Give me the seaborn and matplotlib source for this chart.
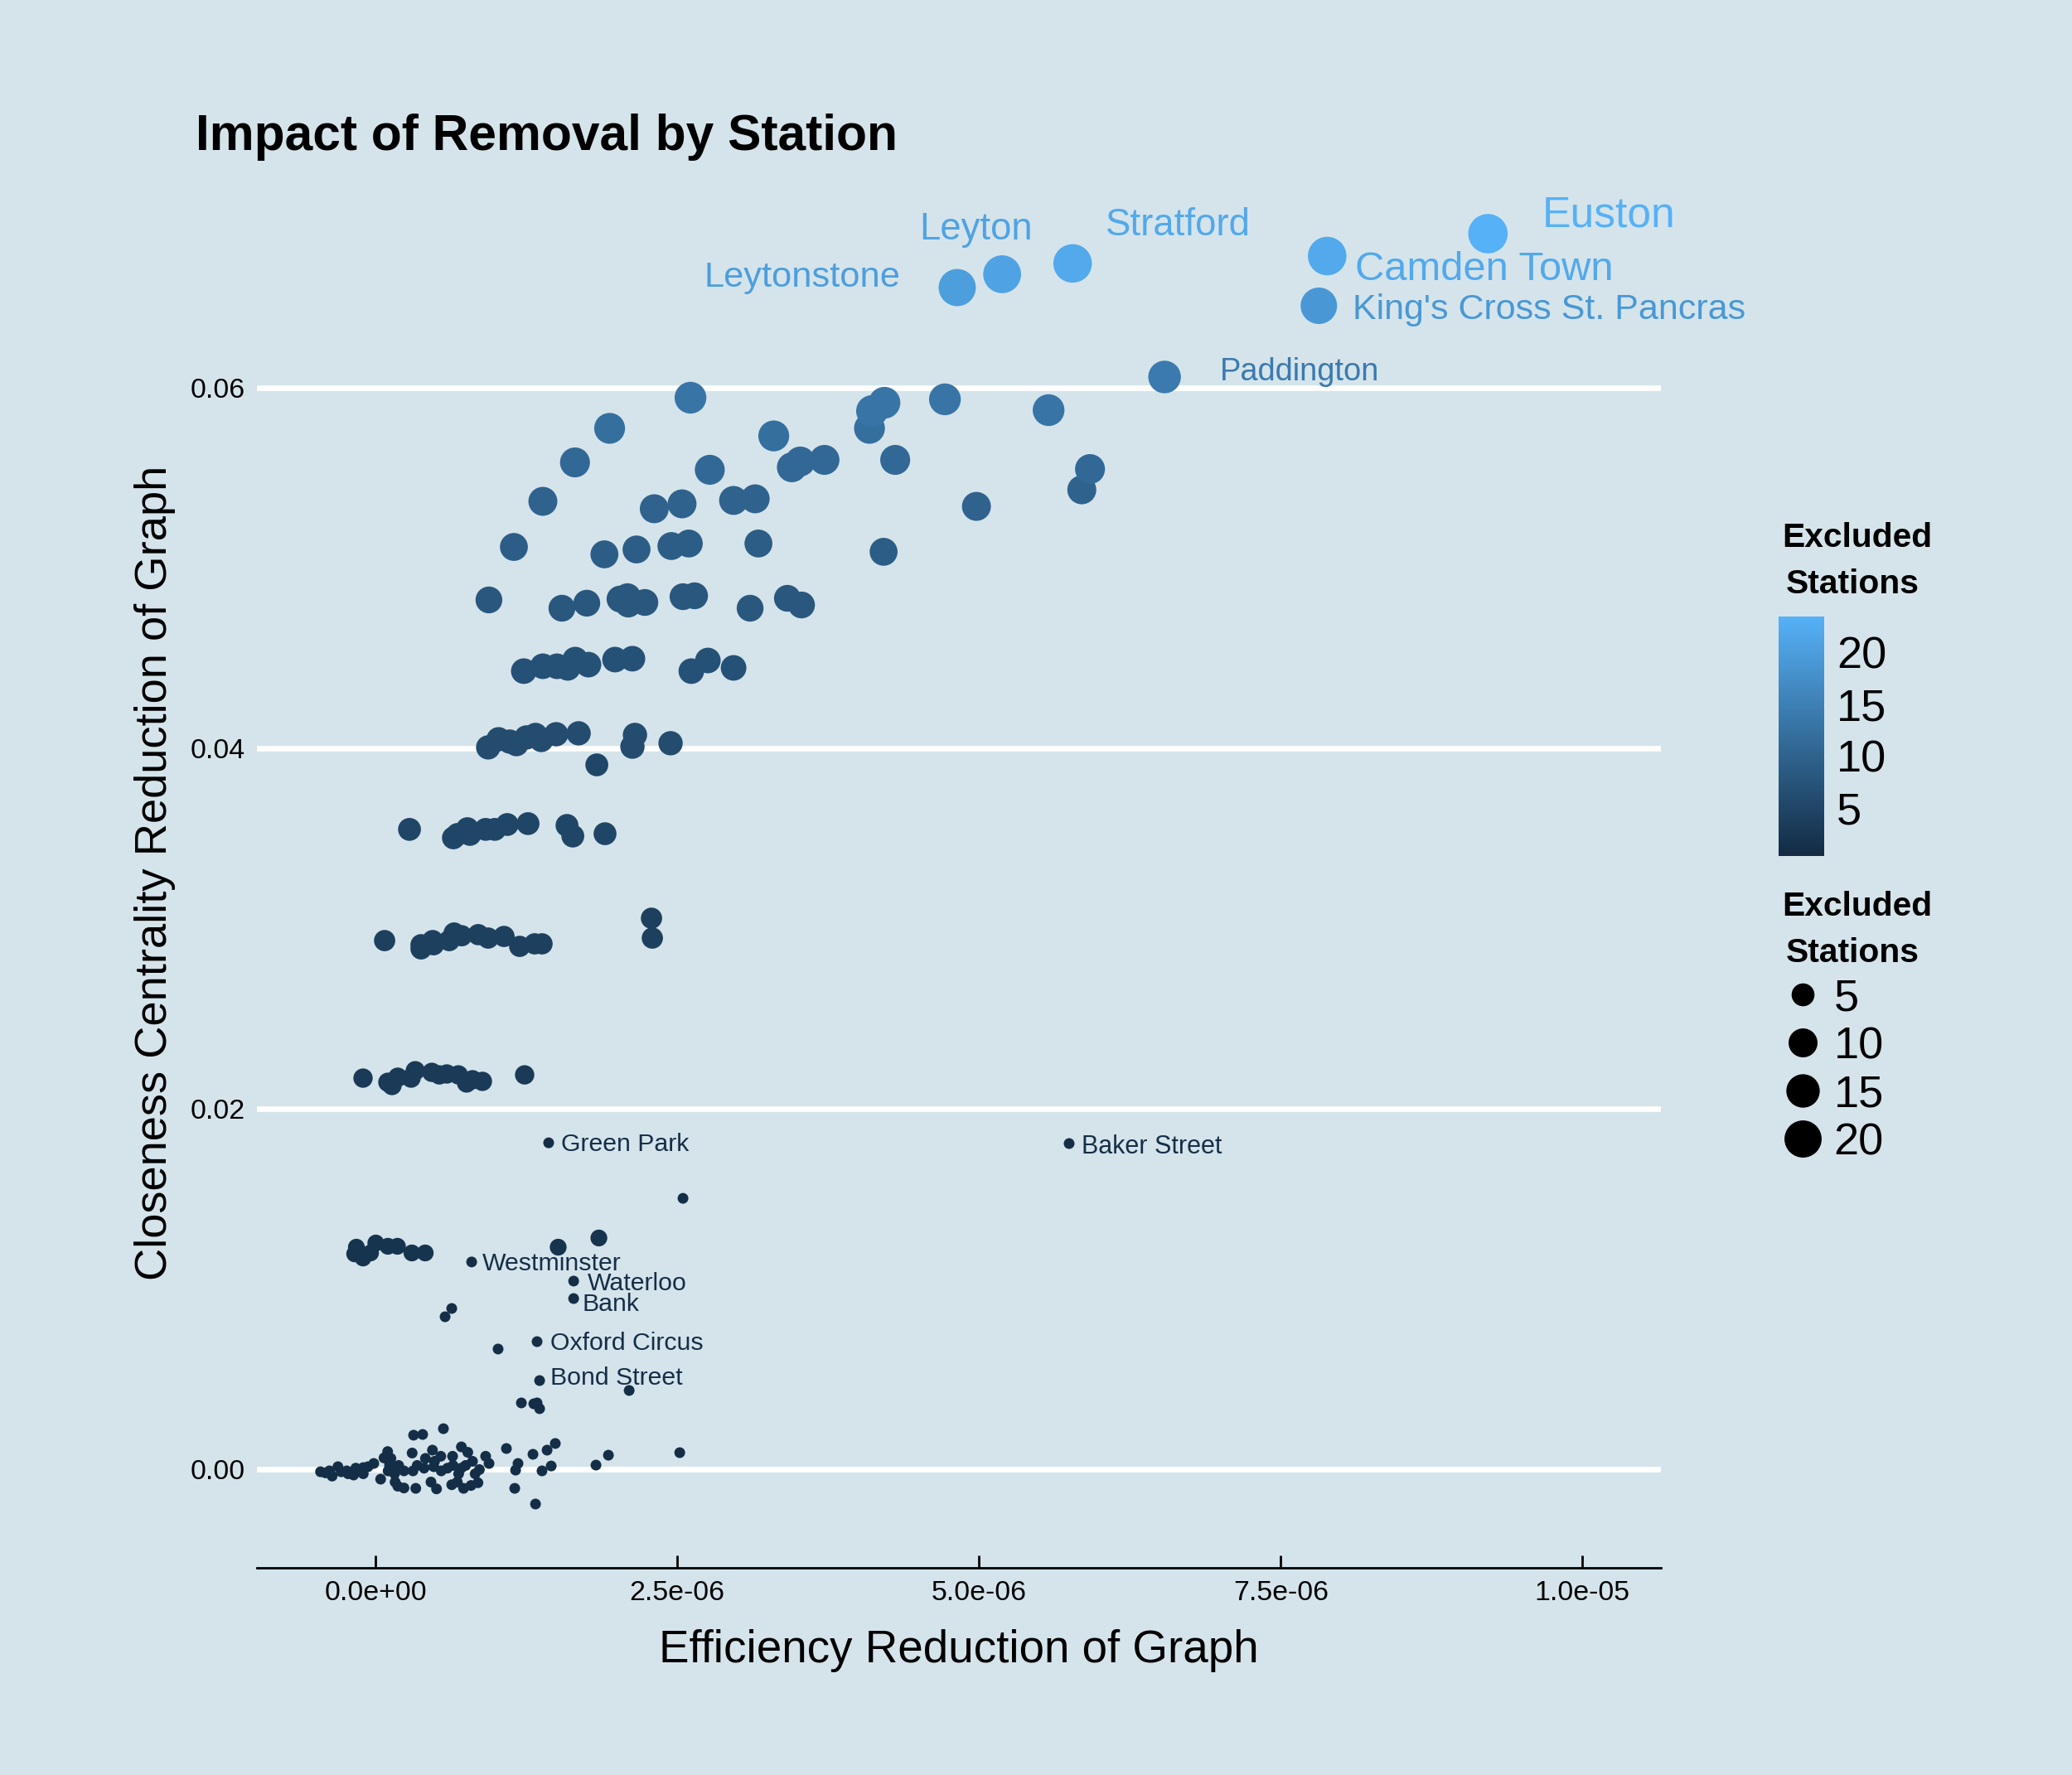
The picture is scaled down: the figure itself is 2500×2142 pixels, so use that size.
import matplotlib

matplotlib.use("Agg")
import numpy as np
import pandas as pd
import seaborn as sns
from matplotlib import pyplot as plt
from matplotlib.cm import ScalarMappable
from matplotlib.colors import LinearSegmentedColormap, Normalize
from matplotlib.lines import Line2D

# efficiency reduction is kept in units of 1e-6, one pair of lists per excluded-station count
eff_1 = [1.435, 5.747, 2.548, 0.797, 1.642, 1.642, 0.632, 0.577, 1.339, 1.016, 1.36, 2.102,
         1.209, 1.312, 1.339, 1.36, 0.563, 0.316, 0.391, 1.49, 1.422, 1.085, 1.305, 1.93, 2.521,
         1.827, 1.456, 1.38, 1.181, 1.161, 1.154, 1.326,
         -0.455, -0.414, -0.382, -0.359, -0.311, -0.284, -0.238, -0.227, -0.181, -0.163, -0.101, -0.101,
         -0.062, -0.014, 0.043, 0.071, 0.101, 0.105, 0.128, 0.117, 0.105, 0.163, 0.185, 0.236,
         0.158, 0.192, 0.236, 0.304, 0.311, 0.334, 0.346, 0.414, 0.403, 0.46, 0.506, 0.472,
         0.483, 0.541, 0.545, 0.49, 0.639, 0.632, 0.678, 0.643, 0.689, 0.712, 0.765, 0.73,
         0.792, 0.849, 0.747, 0.804, 0.826, 0.861, 0.913, 0.941, 0.71, 0.597]
clo_1 = [0.01811, 0.01807, 0.01503, 0.0115, 0.01044, 0.00947, 0.00892, 0.00846, 0.00708, 0.00667, 0.00492, 0.00437,
         0.00368, 0.00363, 0.00368, 0.00336, 0.00225, 0.00189, 0.00193, 0.00143, 0.00106, 0.00115, 0.00083, 0.00078, 0.00092,
         0.00023, 0.00018, -0.00009, 0.00032, -0.00005, -0.00106, -0.00193,
         -0.00014, -0.0002, -0.00009, -0.00038, 0.00014, -0.00014, -0.00009, -0.00025, -0.00032, 0.00006, -0.00025, 0.00009,
         0.00014, 0.00032, -0.00055, 0.00063, 0.00098, 0.00052, 0.0006, 0.00021, -0.00009, -0.00071, -0.00094, -0.00104,
         -0.00025, 0.00021, -0.00009, 0.0009, -0.00009, -0.00106, 0.00021, 0.0006, 0.00006, -0.00071, -0.00109, 0.00106,
         0.00014, 0.00072, -0.00009, 0.00044, 0.00072, -0.00086, -0.00071, 0.00021, -0.00025, 0.00124, 0.00094, -0.00106,
         -0.0009, -0.00075, 0.00021, 0.00044, -0.00025, -0.00002, 0.00072, 0.00032, 0.00006, 0.00006]

eff_2 = [1.851, 1.514, -0.158, -0.172, -0.103, -0.041, 0.003, 0.103, 0.182, 0.302, 0.412]
clo_2 = [0.01283, 0.01232, 0.01232, 0.01195, 0.01172, 0.012, 0.01255, 0.01237, 0.01237, 0.012, 0.012]

eff_3 = [-0.103, 0.103, 0.137, 0.185, 0.295, 0.33, 0.467, 0.529, 0.591, 0.687, 0.755, 0.804, 0.886, 1.236]
clo_3 = [0.0217, 0.02147, 0.02129, 0.02175, 0.0217, 0.02211, 0.02202, 0.02188, 0.02193, 0.02188, 0.02143, 0.02161, 0.02152, 0.02188]

eff_4 = [2.287, 2.294, 0.076, 0.378, 0.378, 0.474, 0.481, 0.611, 0.652, 0.714, 0.852, 0.934, 1.065, 1.195, 1.319, 1.38]
clo_4 = [0.03057, 0.02947, 0.02933, 0.02887, 0.0291, 0.02933, 0.0291, 0.02933, 0.02975, 0.0296, 0.02966, 0.02947, 0.02956, 0.02901, 0.02915, 0.02915]

eff_5 = [0.282, 0.646, 0.68, 0.762, 0.783, 0.913, 0.989, 1.092, 1.264, 1.587, 1.635, 1.902, 1.834]
clo_5 = [0.0355, 0.03503, 0.03522, 0.03554, 0.03522, 0.0355, 0.0355, 0.03577, 0.03582, 0.03572, 0.03513, 0.03526, 0.03908]

eff_6 = [0.934, 1.02, 1.113, 1.168, 1.25, 1.326, 1.374, 1.497, 1.683, 2.129, 2.15, 2.445]
clo_6 = [0.04005, 0.0405, 0.04037, 0.04023, 0.0406, 0.04074, 0.04046, 0.04078, 0.04083, 0.04009, 0.04074, 0.04028]

eff_7 = [1.229, 1.387, 1.504, 1.593, 1.655, 1.765, 1.985, 2.129, 2.617, 2.754, 2.967]
clo_7 = [0.04428, 0.04455, 0.04455, 0.04446, 0.04492, 0.04464, 0.04492, 0.04497, 0.04428, 0.04487, 0.04446]

eff_8 = [0.94, 1.545, 1.751, 2.026, 2.088, 2.095, 2.232, 2.548, 2.644, 3.104, 3.413, 3.53]
clo_8 = [0.04823, 0.04777, 0.04805, 0.04828, 0.04841, 0.048, 0.04809, 0.04841, 0.04846, 0.04777, 0.04832, 0.04795]

eff_9 = [1.147, 1.897, 2.163, 2.452, 2.596, 3.173, 4.21]
clo_9 = [0.05117, 0.05076, 0.05103, 0.05122, 0.05136, 0.05136, 0.0509]

eff_10 = [1.387, 2.967, 3.146, 2.31, 2.54, 4.979, 5.852]
clo_10 = [0.0537, 0.05375, 0.05384, 0.05329, 0.05356, 0.05342, 0.05434]

eff_11 = [1.653, 2.77, 3.45, 3.52, 3.72, 4.306, 5.92]
clo_11 = [0.05586, 0.05545, 0.05559, 0.05591, 0.056, 0.056, 0.05549]

eff_12 = [1.94, 3.3, 4.093]
clo_12 = [0.05775, 0.05733, 0.05775]

eff_13 = [2.61, 4.114, 4.217, 4.718, 5.577]
clo_13 = [0.05945, 0.05871, 0.05917, 0.05936, 0.05876]

# the named stations at the top
top_names = ["Paddington", "King's Cross St. Pancras", "Leytonstone", "Leyton", "Stratford", "Camden Town", "Euston"]
eff_top = [6.538, 7.816, 4.82, 5.192, 5.776, 7.885, 9.217]
clo_top = [0.0606, 0.06455, 0.06556, 0.0663, 0.0669, 0.06731, 0.06855]
excluded_top = [14, 19, 20, 21, 22, 22, 23.4]

label_names = ["Euston", "Camden Town", "King's Cross St. Pancras", "Stratford", "Leyton", "Leytonstone", "Paddington",
               "Green Park", "Baker Street", "Westminster", "Waterloo", "Bank", "Oxford Circus", "Bond Street"]
label_eff = [9.664, 8.115, 8.098, 6.048, 4.509, 2.724, 6.995, 1.538, 5.85, 0.886, 1.755, 1.714, 1.449, 1.449]
label_clo = [0.06892, 0.06598, 0.06382, 0.06846, 0.06823, 0.06561, 0.06041, 0.01766, 0.01752, 0.01103, 0.00993, 0.00878, 0.00662, 0.00469]
label_excluded = [23.4, 22, 19, 22, 21, 20, 14, 1, 1, 1, 1, 1, 1, 1]
label_size = [18.6, 17.6, 15.5, 16.4, 16.4, 15.6, 13.7, 10.9, 11, 10.9, 10.9, 10.9, 10.9, 10.9]

legend_levels = [5, 10, 15, 20]
x_ticks = [0, 2.5e-06, 5e-06, 7.5e-06, 1e-05]
x_tick_labels = ["0.0e+00", "2.5e-06", "5.0e-06", "7.5e-06", "1.0e-05"]
y_ticks = [0.0, 0.02, 0.04, 0.06]
y_tick_labels = ["0.00", "0.02", "0.04", "0.06"]

BG = "#D5E4EB"
W, H, DPI = 2500, 2142, 200
# axes box in pixels of the final image
LEFT, RIGHT, TOP, BOTTOM = 310, 2004, 215, 1892


def dot_px(level):
    return 13 + 33.5 * np.sqrt(np.maximum(level - 1, 0) / 21)


def dot_pt(level):
    return dot_px(level) * 72 / DPI


groups = [
    (1, eff_1, clo_1), (2, eff_2, clo_2), (3, eff_3, clo_3), (4, eff_4, clo_4), (5, eff_5, clo_5),
    (6, eff_6, clo_6), (7, eff_7, clo_7), (8, eff_8, clo_8), (9, eff_9, clo_9), (10, eff_10, clo_10),
    (11, eff_11, clo_11), (12, eff_12, clo_12), (13, eff_13, clo_13),
]
frames = [pd.DataFrame({"efficiency": np.array(e) * 1e-6, "closeness": c, "excluded": float(v)}) for v, e, c in groups]
frames.append(pd.DataFrame({"efficiency": np.array(eff_top) * 1e-6, "closeness": clo_top, "excluded": excluded_top}))
stations = pd.concat(frames, ignore_index=True)

sns.set_theme(style="white", rc={"figure.facecolor": BG, "axes.facecolor": BG, "savefig.facecolor": BG})
plt.rcParams["font.family"] = ["Liberation Sans", "DejaVu Sans"]

cmap = LinearSegmentedColormap.from_list("excluded", ["#132B43", "#56B1F7"])
norm = Normalize(0.4, 23.4)
size_map = {v: dot_pt(v) ** 2 for v in stations["excluded"].unique()}

fig = plt.figure(figsize=(W / DPI, H / DPI), dpi=DPI)
ax = fig.add_axes([LEFT / W, 1 - BOTTOM / H, (RIGHT - LEFT) / W, (BOTTOM - TOP) / H])

sns.scatterplot(data=stations, x="efficiency", y="closeness", hue="excluded", size="excluded",
                palette=cmap, hue_norm=norm, sizes=size_map, linewidth=0, legend=False, ax=ax, zorder=3)

ax.set_xlim(-0.982e-06, 10.65e-06)
ax.set_ylim(-0.00547, 0.07163)
ax.set_xticks(x_ticks, x_tick_labels)
ax.set_yticks(y_ticks, y_tick_labels)
ax.tick_params(axis="x", bottom=True, direction="in", length=5.4, width=1.0, color="black", labelsize=12.2, pad=5.5, labelcolor="black")
ax.tick_params(axis="y", length=0, labelsize=12.2, pad=5, labelcolor="black")
ax.grid(axis="y", color="white", linewidth=2.4)
ax.grid(axis="x", visible=False)
ax.set_axisbelow(True)
sns.despine(ax=ax, left=True)
ax.spines["bottom"].set_color("black")
ax.spines["bottom"].set_linewidth(1.0)

ax.set_xlabel("Efficiency Reduction of Graph", fontsize=19.7, color="black", labelpad=10)
ax.set_ylabel("Closeness Centrality Reduction of Graph", fontsize=19.6, color="black", labelpad=6.3)
fig.text(236 / W, 1 - 181 / H, "Impact of Removal by Station", fontsize=21.8, fontweight="bold", color="black", ha="left", va="baseline")

for name, ex, cl, lvl, fs in zip(label_names, label_eff, label_clo, label_excluded, label_size):
    ax.text(ex * 1e-6, cl, name, fontsize=fs, color=cmap(norm(lvl)), ha="left", va="baseline", zorder=4)

# colour bar legend
cax = fig.add_axes([2146 / W, 1 - 1033 / H, 55 / W, 289 / H])
cbar = fig.colorbar(ScalarMappable(norm=norm, cmap=cmap), cax=cax, ticks=legend_levels)
cbar.outline.set_visible(False)
cax.tick_params(axis="y", direction="in", left=True, right=True, length=4.2, width=0.5, color="white",
                labelsize=19.5, pad=5.5, labelcolor="black")

# size legend
handles = [Line2D([], [], linestyle="none", marker="o", color="black", markeredgewidth=0, markersize=dot_pt(v), label=str(v))
           for v in legend_levels]
fig.legend(handles=handles, loc="upper left", bbox_to_anchor=(2142 / W, 1 - 1180 / H), frameon=False, fontsize=19.5,
           labelspacing=0.15, handletextpad=0.1, handlelength=1.2, borderpad=0, borderaxespad=0, labelcolor="black")

for y_px in (649, 1094):
    fig.text(2241 / W, 1 - y_px / H, "Excluded", fontsize=14.7, fontweight="bold", color="black", ha="center", va="center")
    fig.text(2235 / W, 1 - (y_px + 56) / H, "Stations", fontsize=14.7, fontweight="bold", color="black", ha="center", va="center")

fig.savefig("out.png", dpi=DPI)
